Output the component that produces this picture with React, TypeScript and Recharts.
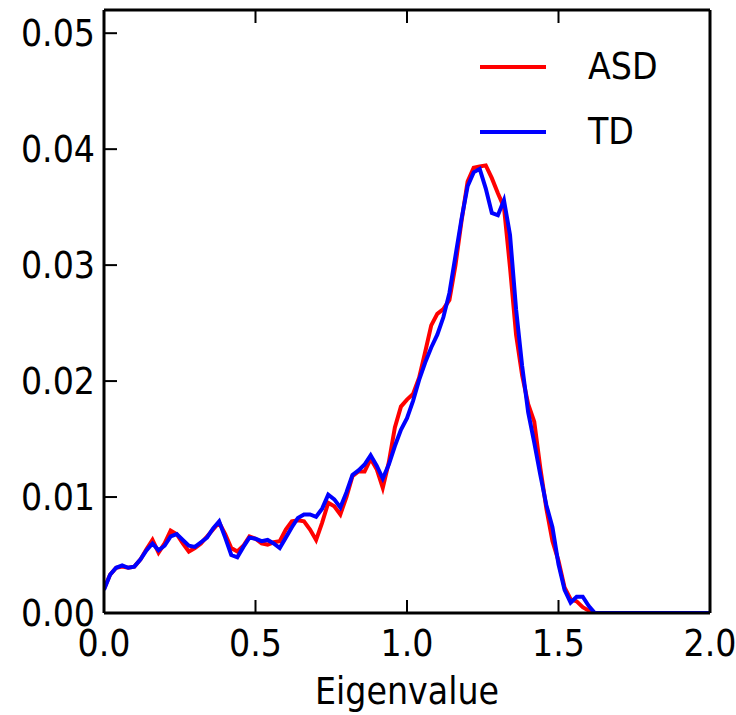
import { LineChart, Line, XAxis, YAxis, Legend } from 'recharts';

// eigenvalue grid (x) and density per group
const EIGEN = [
  0.0, 0.02, 0.04, 0.06, 0.08, 0.1, 0.12, 0.14, 0.16, 0.18,
  0.2, 0.22, 0.24, 0.26, 0.28, 0.3, 0.32, 0.34, 0.36, 0.38,
  0.4, 0.42, 0.44, 0.46, 0.48, 0.5, 0.52, 0.54, 0.56, 0.58,
  0.6, 0.62, 0.64, 0.66, 0.68, 0.7, 0.72, 0.74, 0.76, 0.78,
  0.8, 0.82, 0.84, 0.86, 0.88, 0.9, 0.92, 0.94, 0.96, 0.98,
  1.0, 1.02, 1.04, 1.06, 1.08, 1.1, 1.12, 1.14, 1.16, 1.18,
  1.2, 1.22, 1.24, 1.26, 1.28, 1.3, 1.32, 1.34, 1.36, 1.38,
  1.4, 1.42, 1.44, 1.46, 1.48, 1.5, 1.52, 1.54, 1.56, 1.58,
  1.6, 1.62, 2.0,
];

const ASD = [
  0.0021, 0.0033, 0.0039, 0.004, 0.0039, 0.004, 0.0046, 0.0055, 0.0063, 0.0052,
  0.006, 0.0071, 0.0068, 0.006, 0.0053, 0.0056, 0.006, 0.0066, 0.0072, 0.0078,
  0.0068, 0.0056, 0.0053, 0.0058, 0.0066, 0.0064, 0.006, 0.0059, 0.0061, 0.0062,
  0.0072, 0.0079, 0.008, 0.0079, 0.0072, 0.0063, 0.0078, 0.0095, 0.0092, 0.0085,
  0.01, 0.0118, 0.0122, 0.0122, 0.0133, 0.0124, 0.0108, 0.013, 0.016, 0.0178,
  0.0184, 0.0189, 0.0203, 0.0225, 0.0248, 0.0258, 0.0262, 0.027, 0.03, 0.0338,
  0.0372, 0.0384, 0.0385, 0.0386, 0.0375, 0.0362, 0.035, 0.0298, 0.024, 0.0205,
  0.018, 0.0165, 0.0125, 0.009, 0.0062, 0.0045, 0.0022, 0.0012, 0.001, 0.0005,
  0.0002, 0.0, 0.0,
];

const TD = [
  0.002, 0.0033, 0.0039, 0.0041, 0.0039, 0.004, 0.0046, 0.0054, 0.006, 0.0054,
  0.0058, 0.0066, 0.0068, 0.0063, 0.0058, 0.0057, 0.0061, 0.0065, 0.0073, 0.0079,
  0.0065, 0.005, 0.0048, 0.0057, 0.0065, 0.0064, 0.0062, 0.0063, 0.006, 0.0056,
  0.0065, 0.0074, 0.0082, 0.0085, 0.0085, 0.0083, 0.009, 0.0102, 0.0098, 0.0091,
  0.0104, 0.0119, 0.0123, 0.0128, 0.0136, 0.0127, 0.0116, 0.0128, 0.0144, 0.0158,
  0.0168, 0.0183, 0.0201, 0.0216, 0.0229, 0.024, 0.0255, 0.0276, 0.0308, 0.034,
  0.0368, 0.038, 0.0383, 0.0366, 0.0345, 0.0343, 0.0356, 0.0326, 0.0262, 0.0213,
  0.0173, 0.0147, 0.0119, 0.0093, 0.0074, 0.0042, 0.002, 0.0009, 0.0014, 0.0014,
  0.0006, 0.0, 0.0,
];

const X_TICKS = [0, 0.5, 1, 1.5, 2];
const Y_TICKS = [0, 0.01, 0.02, 0.03, 0.04, 0.05];

const SERIES = [
  { key: 'ASD', color: '#ff0000' },
  { key: 'TD', color: '#0000ff' },
];

const data = EIGEN.map((x, i) => ({ x, ASD: ASD[i], TD: TD[i] }));

const FONT = '"DejaVu Sans Condensed", "DejaVu Sans", sans-serif';
const FS = 37;
const tickStyle = { fill: '#000', fontSize: FS, fontFamily: FONT };
const axisLine = { stroke: '#000', strokeWidth: 3 };
const tickLine = { stroke: '#000', strokeWidth: 2 };

const renderLegend = () => (
  <div style={{ fontFamily: FONT, fontSize: FS, color: '#000' }}>
    {SERIES.map(s => (
      <div key={s.key} style={{ display: 'flex', alignItems: 'center', height: 65 }}>
        <div style={{ width: 66, height: 4, background: s.color }} />
        <span style={{ marginLeft: 42 }}>{s.key}</span>
      </div>
    ))}
  </div>
);

export default function App() {
  return (
    <div style={{ position: 'absolute', left: 0, top: 0, background: '#fff' }}>
      <LineChart width={736} height={715} data={data} margin={{ top: 9, right: 25, left: 0, bottom: 0 }}>
        <XAxis
          dataKey="x" type="number" domain={[0, 2]} ticks={X_TICKS} allowDataOverflow
          height={102} tickSize={-13} tickMargin={30}
          tick={tickStyle} tickLine={tickLine} axisLine={axisLine}
          tickFormatter={(v: number) => v.toFixed(1)}
          label={{ value: 'Eigenvalue', position: 'insideBottom', offset: 11, fill: '#000', fontSize: FS, fontFamily: FONT }}
        />
        <XAxis
          xAxisId="top" orientation="top" dataKey="x" type="number" domain={[0, 2]} ticks={X_TICKS}
          height={1} tickSize={-13} tickMargin={0} tickLine={tickLine} axisLine={axisLine}
          tick={{ fontSize: 1 }} tickFormatter={() => ''}
        />
        <YAxis
          type="number" domain={[0, 0.052]} ticks={Y_TICKS} allowDataOverflow
          width={104} tickSize={-13} tickMargin={22}
          tick={tickStyle} tickLine={tickLine} axisLine={axisLine}
          tickFormatter={(v: number) => v.toFixed(2)}
        />
        <YAxis
          yAxisId="right" orientation="right" type="number" domain={[0, 0.052]} ticks={Y_TICKS}
          width={1} tickSize={-13} tickMargin={0} tickLine={tickLine} axisLine={axisLine}
          tick={{ fontSize: 1 }} tickFormatter={() => ''}
        />
        <Legend
          layout="vertical" align="center" verticalAlign="middle"
          content={renderLegend}
          wrapperStyle={{ top: 34, left: 480, width: 230 }}
        />
        {SERIES.map(s => (
          <Line
            key={s.key} dataKey={s.key} type="linear" stroke={s.color} strokeWidth={4}
            dot={false} activeDot={false} isAnimationActive={false}
          />
        ))}
      </LineChart>
    </div>
  );
}
